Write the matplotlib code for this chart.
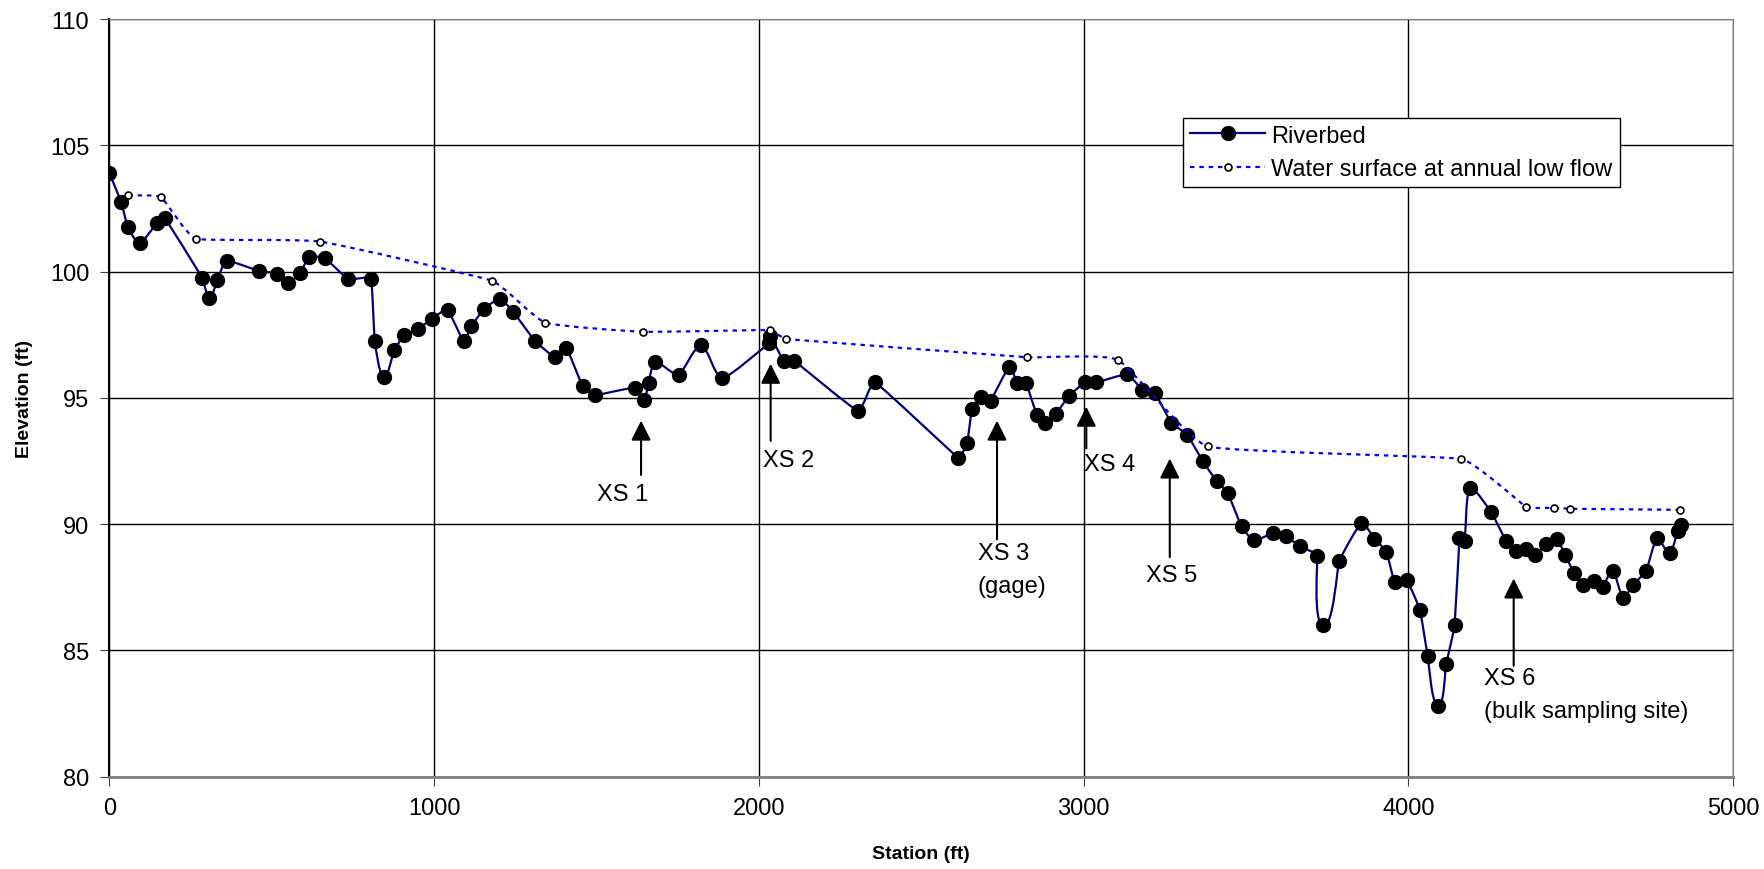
import matplotlib
matplotlib.use("Agg")
import numpy as np
import matplotlib.pyplot as plt
from matplotlib.path import Path
from matplotlib.patches import PathPatch
from matplotlib.lines import Line2D

plt.rcParams['font.family'] = ['Liberation Sans', 'DejaVu Sans']

# riverbed profile (station ft, elevation ft)
bed_station = [0, 36, 57, 93, 147, 171, 286, 308, 332, 361, 460, 516, 551, 587, 615, 664,
               735, 805, 817, 844, 877, 908, 949, 992, 1041, 1091, 1113, 1154, 1202, 1243,
               1311, 1373, 1407, 1457, 1496, 1617, 1645, 1660, 1681, 1753, 1822, 1886,
               2030, 2035, 2076, 2109, 2304, 2358, 2613, 2641, 2656, 2685, 2713, 2771,
               2795, 2823, 2856, 2882, 2915, 2955, 3003, 3039, 3133, 3180, 3219, 3270,
               3318, 3367, 3409, 3444, 3486, 3524, 3582, 3623, 3665, 3719, 3737, 3787,
               3855, 3895, 3932, 3957, 3994, 4035, 4059, 4090, 4116, 4142, 4157, 4174,
               4188, 4254, 4300, 4332, 4362, 4390, 4422, 4457, 4483, 4510, 4536, 4570,
               4598, 4629, 4660, 4691, 4732, 4765, 4804, 4829, 4839]
bed_elev = [103.9, 102.75, 101.75, 101.12, 101.94, 102.12, 99.75, 98.97, 99.66, 100.42,
            100.03, 99.92, 99.56, 99.93, 100.58, 100.53, 99.71, 99.71, 97.25, 95.82,
            96.89, 97.49, 97.72, 98.12, 98.48, 97.25, 97.83, 98.52, 98.92, 98.41, 97.25,
            96.60, 96.98, 95.46, 95.11, 95.41, 94.91, 95.60, 96.43, 95.91, 97.09, 95.77,
            97.16, 97.45, 96.47, 96.47, 94.50, 95.61, 92.63, 93.22, 94.55, 95.03, 94.88,
            96.23, 95.57, 95.57, 94.31, 94.02, 94.38, 95.08, 95.61, 95.61, 95.93, 95.33,
            95.20, 94.01, 93.55, 92.49, 91.71, 91.22, 89.91, 89.36, 89.64, 89.54, 89.12,
            88.76, 85.99, 88.54, 90.05, 89.43, 88.90, 87.73, 87.81, 86.61, 84.80, 82.80,
            84.46, 86.01, 89.45, 89.33, 91.42, 90.48, 89.35, 88.95, 89.0, 88.78, 89.21,
            89.40, 88.78, 88.05, 87.59, 87.75, 87.52, 88.15, 87.09, 87.59, 88.16, 89.44,
            88.85, 89.74, 89.95]

# water surface at annual low flow
ws_station = [58, 159, 266, 648, 1178, 1342, 1643, 2033, 2083, 2825, 3105, 3382, 4162,
              4362, 4449, 4498, 4835]
ws_elev = [103.03, 102.94, 101.30, 101.19, 99.64, 97.98, 97.62, 97.69, 97.33, 96.61,
           96.50, 93.08, 92.59, 90.69, 90.65, 90.61, 90.57]

# cross-section markers
xs_labels = ["XS 1", "XS 2", "XS 3\n(gage)", "XS 4", "XS 5", "XS 6\n(bulk sampling site)"]
xs_station = [1637, 2036, 2733, 3008, 3265, 4324]
xs_tip = [94.1, 96.35, 94.1, 94.65, 92.6, 87.85]
xs_tail = [91.95, 93.3, 89.4, 93.0, 88.7, 84.4]
xs_text_x = [1501, 2014, 2673, 3000, 3192, 4232]
xs_text_y = [91.2, 92.53, 88.2, 92.4, 88.0, 83.25]


def smooth_path(ax, xs, ys):
    # lightly smoothed line through the points (rounded corners only)
    P = ax.transData.transform(np.column_stack([xs, ys]))
    n = len(P)
    seg = np.hypot(*(P[1:] - P[:-1]).T)
    ctrl_out, ctrl_in = [], []
    for i in range(n):
        if i == 0 or i == n - 1:
            ctrl_out.append(P[i] + (P[min(i + 1, n - 1)] - P[i]) / 3)
            ctrl_in.append(P[i] - (P[i] - P[max(i - 1, 0)]) / 3)
            continue
        d = P[i + 1] - P[i - 1]
        u = d / (np.hypot(*d) + 1e-9)
        L = min(seg[i - 1], seg[i]) / 6
        ctrl_out.append(P[i] + u * L)
        ctrl_in.append(P[i] - u * L)
    verts = [P[0]]
    for i in range(n - 1):
        verts += [ctrl_out[i], ctrl_in[i + 1], P[i + 1]]
    verts = ax.transData.inverted().transform(np.array(verts))
    codes = [Path.MOVETO] + [Path.CURVE4] * (len(verts) - 1)
    return Path(verts, codes)


fig, ax = plt.subplots(figsize=(17.65, 8.70), dpi=100)
fig.subplots_adjust(left=0.062, right=0.982, top=0.977, bottom=0.106)

ax.set_xlim(0, 5000)
ax.set_ylim(80, 110)

ax.add_patch(PathPatch(smooth_path(ax, bed_station, bed_elev), fc='none', ec='#000080',
                       lw=1.6, zorder=3))
ax.plot(bed_station, bed_elev, ls='none', marker='o', ms=10, mfc='black', mec='black',
        zorder=3)
ax.add_patch(PathPatch(smooth_path(ax, ws_station, ws_elev), fc='none', ec='#0000FF',
                       lw=1.6, ls=(0, (2, 2.2)), zorder=4))
ax.plot(ws_station, ws_elev, ls='none', marker='o', ms=5, mfc='white', mec='black',
        mew=1.2, zorder=4)

for lab, x, tip, tail, tx, ty in zip(xs_labels, xs_station, xs_tip, xs_tail,
                                     xs_text_x, xs_text_y):
    ax.annotate('', xy=(x, tip), xytext=(x, tail),
                arrowprops=dict(arrowstyle='-|>,head_length=1.2,head_width=0.6',
                                mutation_scale=10, lw=1.5, color='black',
                                shrinkA=0, shrinkB=0), zorder=5)
    ax.text(tx, ty, lab, fontsize=17, ha='left', va='center', linespacing=1.65)

ax.set_xticks(range(0, 5001, 1000))
ax.set_yticks(range(80, 111, 5))
ax.tick_params(labelsize=17, direction='out', length=6.5, pad=8, color='#404040')
ax.grid(True, color='black', lw=1.0)
ax.set_axisbelow(True)
for s in ['top', 'right']:
    ax.spines[s].set_color('#808080')
ax.spines['bottom'].set_color('#808080')
ax.spines['bottom'].set_linewidth(2)
ax.spines['left'].set_color('black')
ax.spines['left'].set_linewidth(1.5)

ax.set_xlabel('Station (ft)', fontsize=14, fontweight='bold', labelpad=19)
ax.set_ylabel('Elevation (ft)', fontsize=14, fontweight='bold', labelpad=12)

handles = [
    Line2D([], [], color='#000080', lw=1.6, marker='o', ms=10, mfc='black', mec='black'),
    Line2D([], [], color='#0000FF', lw=1.6, ls=(0, (2, 2.2)), marker='o', ms=5,
           mfc='white', mec='black', mew=1.2),
]
leg = ax.legend(handles, ['Riverbed', 'Water surface at annual low flow'],
                loc='upper left', bbox_to_anchor=(0.661, 0.870), fontsize=17,
                frameon=True, fancybox=False, edgecolor='black', framealpha=1,
                handlelength=3.2, handletextpad=0.25, borderpad=0.3,
                labelspacing=0.5, borderaxespad=0)
leg.get_frame().set_linewidth(1.0)

plt.savefig('out.png', dpi=100)
